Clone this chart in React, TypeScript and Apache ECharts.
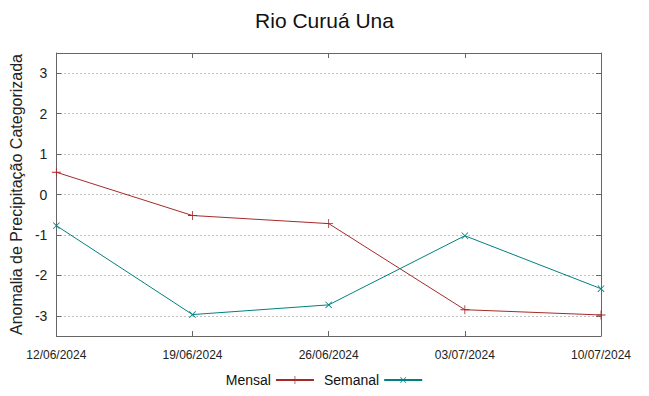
import React, { useEffect, useRef } from "react";
import * as echarts from "echarts";

const titleText = "Rio Curuá Una";
const yAxisName = "Anomalia de Precipitação Categorizada";
const dates = ["12/06/2024", "19/06/2024", "26/06/2024", "03/07/2024", "10/07/2024"];
const mensal = [0.55, -0.52, -0.72, -2.85, -2.98];
const semanal = [-0.77, -2.97, -2.73, -1.02, -2.33];
const seriesNames = ["Mensal", "Semanal"];

const FONT = "Liberation Sans";
const plusPath = "path://M-0.09,-1H0.09V-0.09H1V0.09H0.09V1H-0.09V0.09H-1V-0.09H-0.09Z";

export default function App() {
  const ref = useRef<HTMLDivElement>(null);
  useEffect(() => {
    if (!ref.current) return;
    const chart = echarts.init(ref.current, undefined, { renderer: "svg" });
    const borderColor = "#666";
    chart.setOption({
      animation: false,
      backgroundColor: "#fff",
      textStyle: { fontFamily: FONT },
      title: {
        text: titleText,
        left: "center",
        top: 5,
        textStyle: { fontFamily: FONT, fontSize: 21, fontWeight: "normal", color: "#111" },
      },
      legend: {
        bottom: 4,
        left: "center",
        align: "right",
        itemWidth: 38,
        itemHeight: 10,
        itemGap: 9,
        textStyle: { fontFamily: FONT, fontSize: 14, color: "#111" },
        data: seriesNames,
      },
      grid: { left: 49, right: 48, top: 53, bottom: 60, containLabel: false },
      xAxis: [
        {
          type: "category",
          data: dates,
          boundaryGap: false,
          axisLine: { onZero: false, lineStyle: { color: borderColor, width: 1 } },
          axisTick: { inside: true, length: 5, lineStyle: { color: borderColor } },
          axisLabel: { fontFamily: FONT, fontSize: 12, color: "#222", margin: 13 },
          splitLine: { show: false },
        },
        {
          type: "category",
          data: dates,
          boundaryGap: false,
          position: "top",
          axisLine: { onZero: false, lineStyle: { color: borderColor, width: 1 } },
          axisTick: { inside: true, length: 5, lineStyle: { color: borderColor } },
          axisLabel: { show: false },
          splitLine: { show: false },
        },
      ],
      yAxis: [
        {
          type: "value",
          min: -3.5,
          max: 3.5,
          splitNumber: 7,
          name: yAxisName,
          nameLocation: "middle",
          nameRotate: 90,
          nameGap: 28,
          nameTextStyle: { fontFamily: FONT, fontSize: 16, color: "#222" },
          axisLine: { show: true, onZero: false, lineStyle: { color: borderColor, width: 1 } },
          axisTick: { show: true, inside: true, length: 5, lineStyle: { color: borderColor } },
          axisLabel: {
            fontFamily: FONT,
            fontSize: 14,
            color: "#222",
            margin: 9,
            showMinLabel: false,
            showMaxLabel: false,
            formatter: (v: number) => (Number.isInteger(v) ? String(v) : ""),
          },
          splitLine: { show: true, lineStyle: { color: "#aaa", type: [1.5, 2.5], width: 1 } },
        },
        {
          type: "value",
          min: -3.5,
          max: 3.5,
          splitNumber: 7,
          position: "right",
          axisLine: { show: true, onZero: false, lineStyle: { color: borderColor, width: 1 } },
          axisTick: { show: true, inside: true, length: 5, lineStyle: { color: borderColor } },
          axisLabel: { show: false },
          splitLine: { show: false },
        },
      ],
      series: [
        {
          name: seriesNames[0],
          type: "line",
          data: mensal,
          symbol: plusPath,
          symbolSize: 9,
          showAllSymbol: true,
          lineStyle: { color: "#a52a2a", width: 1 },
          itemStyle: { color: "#a52a2a" },
        },
        {
          name: seriesNames[1],
          type: "line",
          data: semanal,
          symbol: plusPath,
          symbolSize: 9,
          symbolRotate: 45,
          showAllSymbol: true,
          lineStyle: { color: "#008080", width: 1 },
          itemStyle: { color: "#008080" },
        },
      ],
    });
    return () => chart.dispose();
  }, []);
  return (
    <div
      ref={ref}
      style={{ position: "fixed", left: 0, top: 0, width: 649, height: 396 }}
    />
  );
}
